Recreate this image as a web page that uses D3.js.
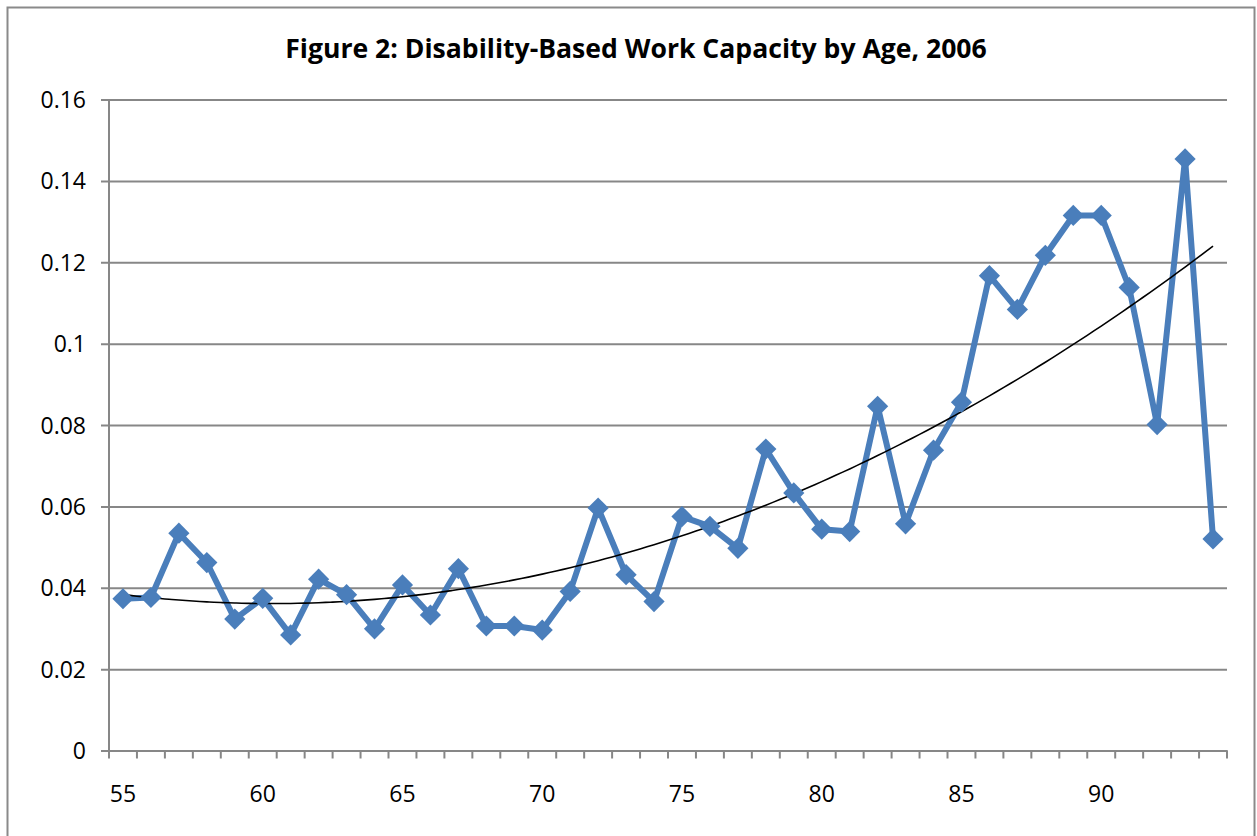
<!DOCTYPE html>
<html>
<head>
<meta charset="utf-8">
<script src="https://cdn.jsdelivr.net/npm/d3@7"></script>
<style>
  html, body { margin: 0; padding: 0; background: #fff; }
  svg { display: block; }
</style>
</head>
<body>
<svg id="chart" width="1257" height="836"></svg>
<script>
const titleText = "Figure 2: Disability-Based Work Capacity by Age, 2006";
const ages = d3.range(55, 95);
const capacity = [
  0.0373, 0.0376, 0.0534, 0.0462, 0.0323, 0.0374, 0.0284, 0.0421, 0.0383, 0.0299,
  0.0407, 0.0333, 0.0447, 0.0306, 0.0306, 0.0296, 0.0391, 0.0596, 0.0432, 0.0366,
  0.0575, 0.0551, 0.0497, 0.0741, 0.0633, 0.0544, 0.0538, 0.0846, 0.0557, 0.0738,
  0.0856, 0.1167, 0.1084, 0.1217, 0.1315, 0.1315, 0.1138, 0.0801, 0.1454, 0.0520
];
const yTicks = [0, 0.02, 0.04, 0.06, 0.08, 0.1, 0.12, 0.14, 0.16];
const xLabelAges = [55, 60, 65, 70, 75, 80, 85, 90];

const svg = d3.select("#chart");
const font = "'Open Sans', 'Noto Sans', sans-serif";
const gridColor = "#878787";

const plot = { left: 109, right: 1227, top: 99.5, bottom: 750.5 };

// outer border
svg.append("rect")
  .attr("x", 7.5).attr("y", 7.5)
  .attr("width", 1247).attr("height", 840)
  .attr("fill", "none").attr("stroke", "#8a8a8a").attr("stroke-width", 2);

const x = d3.scaleBand().domain(ages).range([plot.left, plot.right]).padding(0);
const xc = d => x(d) + x.bandwidth() / 2;
const y = d3.scaleLinear().domain([0, 0.16]).range([plot.bottom, plot.top]);

// gridlines + y axis
const yAxis = d3.axisLeft(y).tickValues(yTicks)
  .tickSize(-(plot.right - plot.left)).tickSizeOuter(0)
  .tickFormat(d => d === 0 ? "0" : String(+d.toFixed(2)));
const gy = svg.append("g").attr("transform", `translate(${plot.left},0)`).call(yAxis);
gy.select(".domain").remove();
gy.selectAll(".tick line").attr("stroke", gridColor).attr("stroke-width", 2)
  .attr("x1", -8);
gy.selectAll(".tick text")
  .attr("x", -23).attr("dy", "0.35em")
  .attr("font-family", font).attr("font-size", 23).attr("fill", "#000");

// y axis line
svg.append("line")
  .attr("x1", plot.left).attr("x2", plot.left)
  .attr("y1", plot.top).attr("y2", plot.bottom)
  .attr("stroke", gridColor).attr("stroke-width", 2);

// x axis
const gx = svg.append("g").attr("transform", `translate(0,${plot.bottom})`)
  .call(d3.axisBottom(x).tickValues(xLabelAges).tickSize(0).tickPadding(0));
gx.select(".domain").attr("stroke", gridColor).attr("stroke-width", 2);
gx.selectAll(".tick text")
  .attr("y", 51).attr("dy", 0)
  .attr("font-family", font).attr("font-size", 23).attr("fill", "#000");

// tick marks at category boundaries
const bounds = ages.map(a => x(a)).concat([x(ages[ages.length - 1]) + x.bandwidth()]);
svg.append("g").selectAll("line").data(bounds).join("line")
  .attr("x1", d => d).attr("x2", d => d)
  .attr("y1", plot.bottom).attr("y2", plot.bottom + 8)
  .attr("stroke", gridColor).attr("stroke-width", 2);

// series line
const data = ages.map((a, i) => ({ age: a, v: capacity[i] }));
svg.append("path").datum(data)
  .attr("fill", "none").attr("stroke", "#4A7EBB").attr("stroke-width", 6)
  .attr("stroke-linejoin", "round")
  .attr("d", d3.line().x(d => xc(d.age)).y(d => y(d.v)));

// quadratic trendline (least squares fit on the data)
function quadFit(xs, ys) {
  let n = xs.length, s = [0,0,0,0,0], t = [0,0,0];
  for (let i = 0; i < n; i++) {
    const xi = xs[i], yi = ys[i];
    for (let k = 0; k < 5; k++) s[k] += Math.pow(xi, k);
    for (let k = 0; k < 3; k++) t[k] += Math.pow(xi, k) * yi;
  }
  const A = [[s[0], s[1], s[2], t[0]], [s[1], s[2], s[3], t[1]], [s[2], s[3], s[4], t[2]]];
  for (let c = 0; c < 3; c++) {
    for (let r = c + 1; r < 3; r++) {
      const f = A[r][c] / A[c][c];
      for (let k = c; k < 4; k++) A[r][k] -= f * A[c][k];
    }
  }
  const b = [0, 0, 0];
  for (let r = 2; r >= 0; r--) {
    let sum = A[r][3];
    for (let k = r + 1; k < 3; k++) sum -= A[r][k] * b[k];
    b[r] = sum / A[r][r];
  }
  return b;
}
const idx = ages.map((a, i) => i + 1);
const coef = quadFit(idx, capacity);
const trend = d3.range(1, 40.001, 0.25).map(t => ({
  px: xc(ages[0]) + (t - 1) * x.step(),
  v: coef[0] + coef[1] * t + coef[2] * t * t
}));
svg.append("path").datum(trend)
  .attr("fill", "none").attr("stroke", "#000").attr("stroke-width", 1.6)
  .attr("d", d3.line().x(d => d.px).y(d => y(d.v)).curve(d3.curveMonotoneX));

// diamond markers
svg.append("g").selectAll("path").data(data).join("path")
  .attr("transform", d => `translate(${xc(d.age)},${y(d.v)}) rotate(45)`)
  .attr("d", d3.symbol().type(d3.symbolSquare).size(225))
  .attr("fill", "#4A7EBB");

// title
const title = svg.append("text")
  .attr("x", 636).attr("y", 58)
  .attr("text-anchor", "middle")
  .attr("font-family", font).attr("font-weight", "bold")
  .attr("font-size", 24).attr("fill", "#000")
  .text(titleText);
const w = title.node().getComputedTextLength();
title.attr("font-size", 24 * 702 / w);
</script>
</body>
</html>
